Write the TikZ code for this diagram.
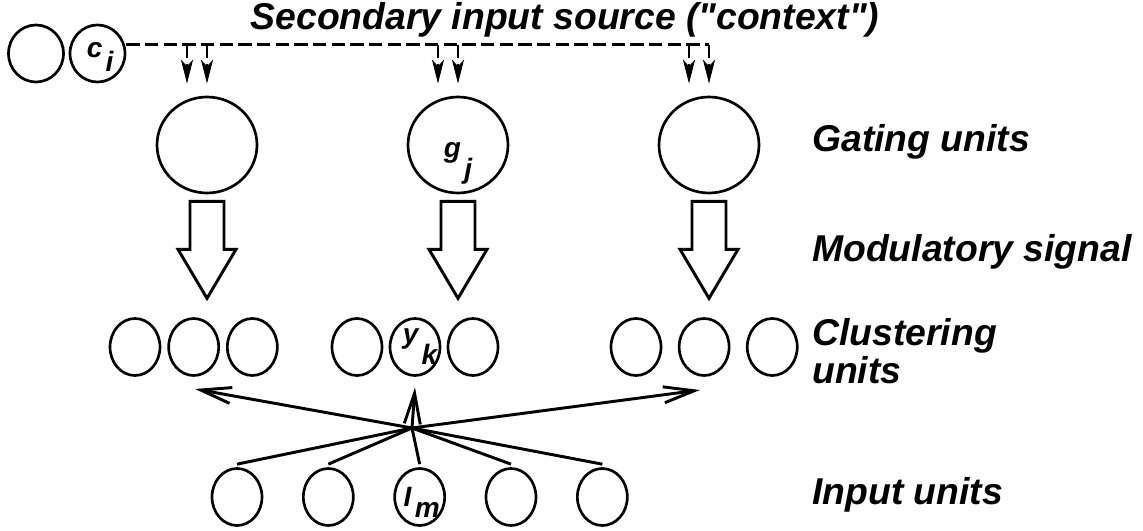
\documentclass[tikz,border=0pt]{standalone}
\usepackage{fontspec}
\setmainfont{Liberation Sans}
\usetikzlibrary{shapes.geometric,positioning,arrows.meta,calc}

\tikzset{
  unit/.style={ellipse,draw,line width=2pt,inner sep=0pt,
    minimum width=37.5pt,minimum height=42.75pt},
  ctxunit/.style={unit,minimum width=41.25pt,minimum height=42.75pt},
  gate/.style={unit,minimum width=75pt,minimum height=72pt},
  title/.style={font=\fontsize{28}{28.5}\selectfont\bfseries\itshape,inner sep=0pt},
  sub/.style={font=\fontsize{21}{21}\selectfont\bfseries\itshape,inner sep=0pt},
  context/.style={line width=2.2pt,dash pattern=on 10pt off 4pt},
  feed/.style={context,-{Stealth[length=18pt,width=9pt,inset=5pt]}},
  fan/.style={line width=2.2pt,-{Straight Barb[length=23pt,width=12pt]}}
}
\newcommand{\sublbl}[3][0.6em]{#2\hspace{2.5pt}\raisebox{-#1}{#3}}
% big open arrow under a gating unit
\newcommand{\modsig}[1]{\draw[line width=2.2pt,line join=miter] (#1.south) ++(-17,7)
  -- ++(0,48) -- ++(-12,0) -- ++(29,49) -- ++(29,-49) -- ++(-12,0) -- ++(0,-48) -- cycle;}

\begin{document}
\begin{tikzpicture}[x=0.75pt,y=-0.75pt]
\useasboundingbox (0,0) rectangle (1143,531);

    % context
    \node[ctxunit] (c0) at (36,53.5) {};
    \node[ctxunit] (ci) at (97.5,53.5) {};
    \node[sub] (cil) at ([xshift=2pt,yshift=-2.5pt]ci) {\sublbl[0.5em]{c}{i}};
    \node[title,anchor=base] (ttl) at (565,30) {Secondary input source (\textquotedbl context\textquotedbl)};

    % gating units
    \node[gate] (g1) at (207,145) {};
    \node[gate] (g2) at (458,145) {};
    \node[gate] (g3) at (709,145) {};
    \node[sub] (gjl) at ([yshift=-13.5pt]g2) {\sublbl[0.75em]{g}{j}};

    % clustering units
    \node[unit] (c11) at (135,347) {};
    \node[unit, right=4.5pt of c11] (c12) {};
    \node[unit, right=4.5pt of c12] (c13) {};
    \node[unit] (c21) at (357,347) {};
    \node[unit, right=4pt of c21] (c22) {};
    \node[unit, right=4pt of c22] (c23) {};
    \node[unit] (c31) at (636,347) {};
    \node[unit, right=11.6pt of c31] (c32) {};
    \node[unit, right=11.6pt of c32] (c33) {};
    \node[sub] (ykl) at ([xshift=3.75pt]c22) {\sublbl[0.75em]{y}{k}};

    % input units
    \node[unit] (in1) at (237,497) {};
    \node[unit, right=29pt of in1] (in2) {};
    \node[unit, right=29pt of in2] (in3) {};
    \node[unit, right=29pt of in3] (in4) {};
    \node[unit, right=29pt of in4] (in5) {};
    \node[sub] (iml) at ([xshift=1.5pt,yshift=-3.75pt]in3) {\sublbl[0.4em]{I}{m}};

    % labels
    \node[title,anchor=base west] (lgate) at (812,152) {Gating units};
    \node[title,anchor=base west] (lmod) at (812,262) {Modulatory signal};
    \node[title,anchor=base west,align=left] (lclu) at (812,383) {Clustering\\units};
    \node[title,anchor=base west] (lin) at (812,504) {Input units};

    % context feed
    \coordinate (src) at ([yshift=6.4pt]ci.east);
    \draw[context] (src) -- (src -| g3);
    \foreach \g in {g1,g2,g3}{
      \draw[feed] ($(\g.north |- src)+(-20,0)$) -- ($(\g.north)+(-20,-12)$);
      \draw[feed] (\g.north |- src) -- ($(\g.north)+(0,-12)$);
      \modsig{\g}
    }

    % input fan
    \coordinate (hub) at (412,428);
    \coordinate (tipl) at (195,389);
    \coordinate (tipr) at (700,390);
    \foreach \i in {1,...,5}
      \draw[line width=2.2pt] ($(in\i.north)+(0,-3)$) -- (hub);
    \draw[fan] (hub) -- (tipl);
    \draw[fan] (hub) -- ([yshift=-8pt]c22.south);
    \draw[fan] (hub) -- (tipr);

\end{tikzpicture}
\end{document}
